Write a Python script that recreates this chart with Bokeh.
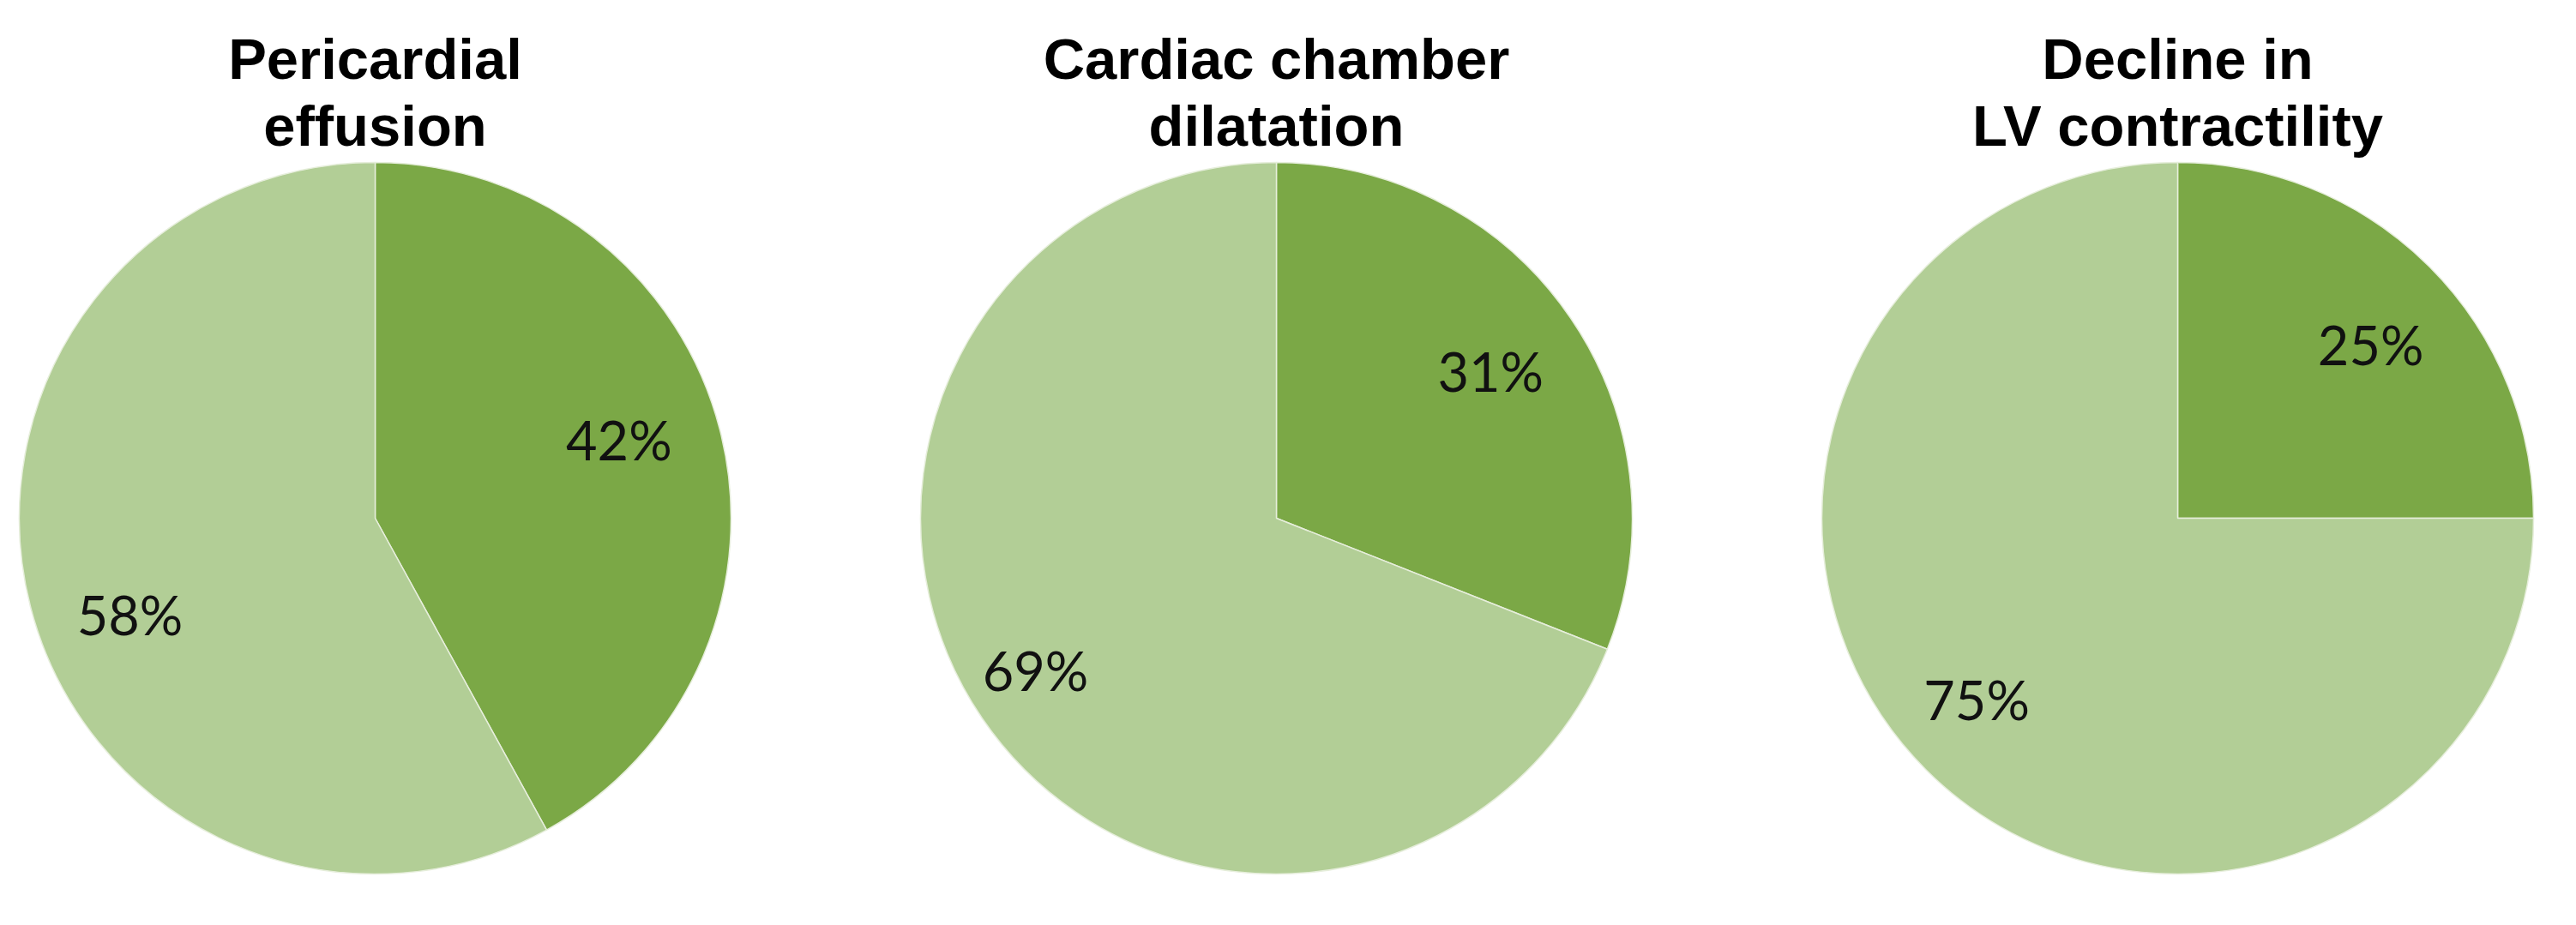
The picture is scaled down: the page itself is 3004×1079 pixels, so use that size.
import math
from bokeh.plotting import figure
from bokeh.models import Range1d, ColumnDataSource
from bokeh.core.properties import value
from bokeh.embed import file_html
from bokeh.resources import INLINE

# ---- data ----
titles = [["Pericardial", "effusion"],
          ["Cardiac chamber", "dilatation"],
          ["Decline in", "LV contractility"]]
yes_pct = [42, 31, 25]
no_pct = [58, 69, 75]

# ---- style / layout ----
W, H = 2988, 1063
dark = "#7BA846"
light = "#B2CE96"
centers_x = [445, 1496, 2547]
center_y = 1079 - 612
R = 415
label_font = "Lato"
label_size = "63px"
title_size = "67px"
# label placement tweaks (angle shift in degrees, radial fraction)
yes_lab = [(3.5, 0.72), (0.3, 0.73), (-3.0, 0.73)]
no_lab = [(7.0, 0.74), (-2.0, 0.80), (-3.0, 0.76)]

p = figure(width=W, height=H, output_backend="svg", toolbar_location=None,
           x_range=Range1d(8, 8 + W), y_range=Range1d(1079 - 8 - H, 1079 - 8),
           min_border=0, outline_line_color=None)
p.axis.visible = False
p.grid.visible = False
p.background_fill_color = "white"
p.border_fill_color = "white"

wx, wy, ws, we, wc = [], [], [], [], []
lx, ly, lt = [], [], []
for i in range(3):
    cx = centers_x[i]
    fr_yes = yes_pct[i] / 100.0
    a0 = math.pi / 2
    a1 = a0 - 2 * math.pi * fr_yes
    a2 = a0 - 2 * math.pi
    wx += [cx, cx]; wy += [center_y, center_y]
    ws += [a0, a1]; we += [a1, a2]; wc += [dark, light]
    for (s, e, pct, (da, f)) in [(a0, a1, yes_pct[i], yes_lab[i]),
                                 (a1, a2, no_pct[i], no_lab[i])]:
        m = (s + e) / 2 + math.radians(da)
        lx.append(cx + f * R * math.cos(m))
        ly.append(center_y + f * R * math.sin(m))
        lt.append(f"{pct}%")

src = ColumnDataSource(dict(x=wx, y=wy, s=ws, e=we, c=wc))
p.wedge(x="x", y="y", radius=R, start_angle="s", end_angle="e", direction="clock",
        fill_color="c", line_color="#E6EEDB", line_width=1.5, source=src)

p.text(x=lx, y=ly, text=lt, text_font=value(label_font), text_font_size=label_size,
       text_align="center", text_baseline="middle", text_color="#111111")

tx, ty, tt = [], [], []
for i in range(3):
    for j, line in enumerate(titles[i]):
        tx.append(centers_x[i])
        ty.append(1079 - (76 + 78 * j))
        tt.append(line)
p.text(x=tx, y=ty, text=tt, text_font=value("Liberation Sans"), text_font_size=title_size,
       text_font_style="bold", text_align="center", text_baseline="alphabetic",
       text_color="black")

open("out.html", "w").write(file_html(p, INLINE))
